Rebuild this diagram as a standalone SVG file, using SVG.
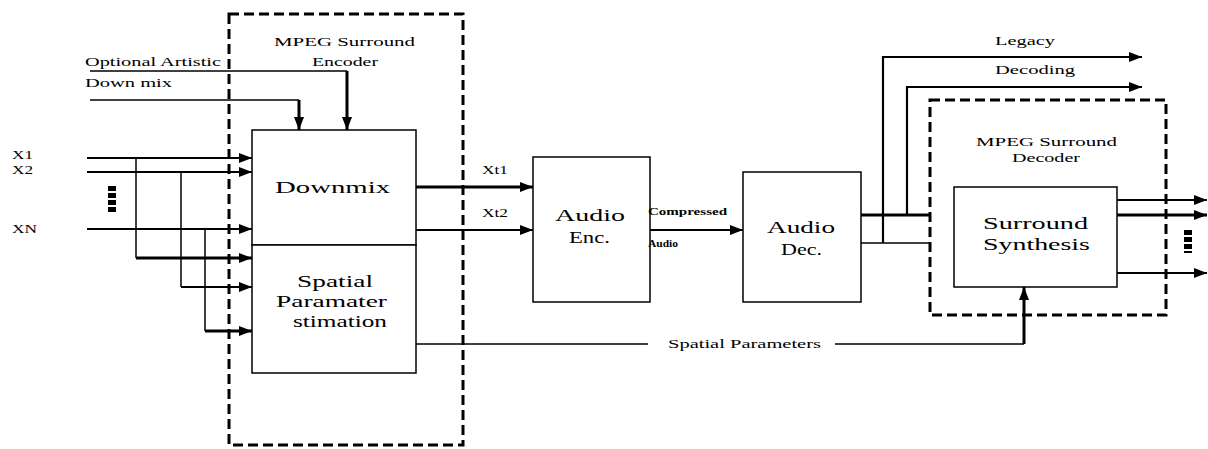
<svg xmlns="http://www.w3.org/2000/svg" width="1208" height="449" viewBox="0 0 1208 449">
<style>
.bg{fill:#fff}
.box{fill:#fff;stroke:#000;stroke-width:1.5}
.dash{fill:none;stroke:#000;stroke-width:3;stroke-dasharray:10,5}
.thin{fill:none;stroke:#000;stroke-width:1.5}
.mid{fill:none;stroke:#000;stroke-width:2.2}
.thick{fill:none;stroke:#000;stroke-width:3}
.dots{fill:none;stroke:#000;stroke-width:8;stroke-dasharray:5,2}
text{font-family:"Liberation Serif","Times New Roman",serif;fill:#000}
.s{font-size:13.5px}
.xs{font-size:9.5px;font-weight:bold}
.b{font-size:17.5px}
</style>
<defs>
<marker id="ah" markerUnits="userSpaceOnUse" markerWidth="13" markerHeight="10" viewBox="0 0 13 10" refX="13" refY="5" orient="auto">
<path d="M0 0 L13 5 L0 10 z" fill="#000"/>
</marker>
</defs>
<rect class="bg" x="0" y="0" width="1208" height="449"/>

<g id="encoder">
<rect class="dash" x="229" y="14" width="234" height="431"/>
<text class="s" x="274" y="46" textLength="141" lengthAdjust="spacingAndGlyphs">MPEG Surround</text>
<text class="s" x="312" y="66" textLength="66" lengthAdjust="spacingAndGlyphs">Encoder</text>
</g>

<g id="downmix">
<rect class="box" x="252" y="130" width="164" height="115"/>
<text class="b" x="275" y="193" textLength="115" lengthAdjust="spacingAndGlyphs">Downmix</text>
</g>

<g id="spatial-estimation">
<rect class="box" x="252" y="245" width="164" height="128"/>
<text class="b" x="297" y="287" textLength="76" lengthAdjust="spacingAndGlyphs">Spatial</text>
<text class="b" x="276" y="307" textLength="111" lengthAdjust="spacingAndGlyphs">Paramater</text>
<text class="b" x="293" y="327" textLength="94" lengthAdjust="spacingAndGlyphs">stimation</text>
</g>

<g id="audio-enc">
<rect class="box" x="533" y="157" width="117" height="145"/>
<text class="b" x="555" y="221" textLength="70" lengthAdjust="spacingAndGlyphs">Audio</text>
<text class="b" x="569" y="243" textLength="41" lengthAdjust="spacingAndGlyphs">Enc.</text>
</g>

<g id="audio-dec">
<rect class="box" x="743" y="172" width="118" height="130"/>
<text class="b" x="767" y="233" textLength="68" lengthAdjust="spacingAndGlyphs">Audio</text>
<text class="b" x="781" y="255" textLength="41" lengthAdjust="spacingAndGlyphs">Dec.</text>
</g>

<g id="decoder">
<rect class="dash" x="930" y="100" width="236" height="215"/>
<text class="s" x="976" y="146" textLength="141" lengthAdjust="spacingAndGlyphs">MPEG Surround</text>
<text class="s" x="1012" y="162" textLength="68" lengthAdjust="spacingAndGlyphs">Decoder</text>
</g>

<g id="surround-synthesis">
<rect class="box" x="954" y="187" width="163" height="100"/>
<text class="b" x="983" y="229" textLength="105" lengthAdjust="spacingAndGlyphs">Surround</text>
<text class="b" x="983" y="250" textLength="107" lengthAdjust="spacingAndGlyphs">Synthesis</text>
</g>

<g id="inputs">
<text class="s" x="12" y="159" textLength="21" lengthAdjust="spacingAndGlyphs">X1</text>
<text class="s" x="12" y="174" textLength="21" lengthAdjust="spacingAndGlyphs">X2</text>
<text class="s" x="12" y="233" textLength="25" lengthAdjust="spacingAndGlyphs">XN</text>
<path class="dots" d="M112 186 V213"/>
<text class="s" x="85" y="66" textLength="136" lengthAdjust="spacingAndGlyphs">Optional Artistic</text>
<text class="s" x="85" y="87" textLength="87" lengthAdjust="spacingAndGlyphs">Down mix</text>
</g>

<g id="outputs">
<path class="dots" d="M1188 230 V253"/>
</g>

<g id="connectors">
<path class="thin" d="M90 71 H347"/>
<path class="thick" d="M347 71 V130" marker-end="url(#ah)"/>
<path class="thin" d="M90 100 H299"/>
<path class="thick" d="M299 100 V130" marker-end="url(#ah)"/>

<path class="mid" d="M87 158 H252" marker-end="url(#ah)"/>
<path class="mid" d="M87 172 H252" marker-end="url(#ah)"/>
<path class="mid" d="M87 229 H252" marker-end="url(#ah)"/>
<path class="thin" d="M136 158 V258"/>
<path class="thick" d="M136 258 H252" marker-end="url(#ah)"/>
<path class="thin" d="M181 172 V287"/>
<path class="mid" d="M181 287 H252" marker-end="url(#ah)"/>
<path class="thin" d="M205 229 V331"/>
<path class="thick" d="M205 331 H252" marker-end="url(#ah)"/>

<path class="thick" d="M416 187 H533" marker-end="url(#ah)"/>
<path class="mid" d="M416 230 H533" marker-end="url(#ah)"/>
<text class="s" x="482" y="174" textLength="26" lengthAdjust="spacingAndGlyphs">Xt1</text>
<text class="s" x="482" y="217" textLength="26" lengthAdjust="spacingAndGlyphs">Xt2</text>

<path class="mid" d="M650 230 H743" marker-end="url(#ah)"/>
<text class="xs" x="648" y="215" textLength="79" lengthAdjust="spacingAndGlyphs">Compressed</text>
<text class="xs" x="648" y="247" textLength="30" lengthAdjust="spacingAndGlyphs">Audio</text>

<path class="thick" d="M861 215 H930"/>
<path class="thin" d="M861 243 H930"/>
<path class="mid" d="M883 243 V57 H1142" marker-end="url(#ah)"/>
<path class="mid" d="M907 215 V87 H1142" marker-end="url(#ah)"/>
<text class="s" x="995" y="45" textLength="60" lengthAdjust="spacingAndGlyphs">Legacy</text>
<text class="s" x="995" y="74" textLength="80" lengthAdjust="spacingAndGlyphs">Decoding</text>

<path class="mid" d="M1117 200 H1207" marker-end="url(#ah)"/>
<path class="thick" d="M1117 215 H1207" marker-end="url(#ah)"/>
<path class="mid" d="M1117 273 H1207" marker-end="url(#ah)"/>

<path class="thin" d="M416 344 H648"/>
<text class="s" x="668" y="348" textLength="153" lengthAdjust="spacingAndGlyphs">Spatial Parameters</text>
<path class="thin" d="M835 344 H1024"/>
<path class="thick" d="M1024 344 V287" marker-end="url(#ah)"/>
</g>
</svg>
